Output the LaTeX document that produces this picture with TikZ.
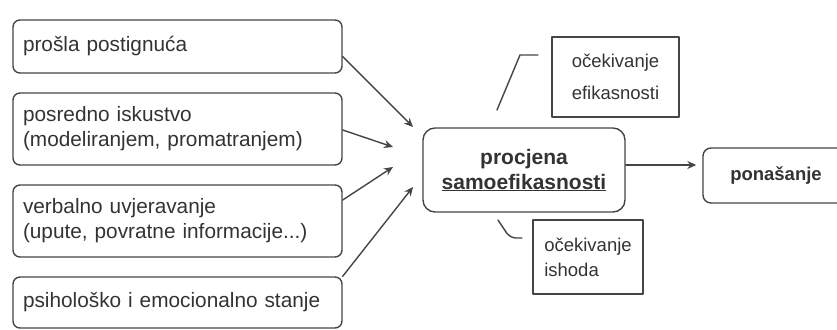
\documentclass[tikz,border=0pt]{standalone}
\usepackage{fontspec}
\setmainfont{Liberation Sans}
\usetikzlibrary{arrows.meta,positioning}
\definecolor{linija}{HTML}{454545}
\definecolor{tekst}{HTML}{333333}
\begin{document}
\begin{tikzpicture}[x=1pt,y=-1pt,line join=round,line cap=round,>={Stealth[length=9pt,width=8pt]}]
                \tikzset{
                  izvor/.style={draw=linija,line width=1.4pt,rounded corners=7pt,minimum width=329pt,
                    text width=309pt,inner xsep=10pt,inner ysep=0pt,align=left,text=tekst,
                    font=\fontsize{20.8}{25}\selectfont},
                  ocekivanje/.style={draw=linija,line width=1.4pt,inner xsep=0pt,inner ysep=0pt,align=left,
                    text=tekst,font=\fontsize{18.5}{#1}\selectfont},
                  strelica/.style={->,draw=linija,line width=1.4pt}
                }
                \useasboundingbox (0,0) rectangle (837,329);
                % izvori samoefikasnosti
                \node[izvor,minimum height=53pt] (izvor1) at (177.5,46.5) {prošla postignuća};
                \node[izvor,minimum height=72pt] (izvor2) at (177.5,129) {posredno iskustvo\\(modeliranjem, promatranjem)};
                \node[izvor,minimum height=72pt] (izvor3) at (177.5,221) {verbalno uvjeravanje\\(upute, povratne informacije...)};
                \node[izvor,minimum height=51pt] (izvor4) at (177.5,302.5) {psihološko i emocionalno stanje};
                % procjena i ponasanje
                \node[draw=linija,line width=1.4pt,rounded corners=12pt,minimum width=202pt,minimum height=84pt,
                      align=center,text=tekst,font=\bfseries\fontsize{21}{25}\selectfont] (centar) at (524,170)
                      {procjena\\\underline{samoefikasnosti}};
                \node[draw=linija,line width=1.4pt,rounded corners=8pt,minimum width=146pt,minimum height=55pt,
                      text=tekst,font=\bfseries\fontsize{18.5}{22}\selectfont] (ponasanje) at (776,175.5) {ponašanje};
                \node[ocekivanje=32,minimum width=127pt,minimum height=80pt] (gore) at (615.5,77) {očekivanje\\efikasnosti};
                \node[ocekivanje=25,minimum width=110pt,minimum height=74pt] (dolje) at (588,257) {očekivanje\\ishoda};
                % krajevi strelica
                \coordinate (k1) at (413,127);
                \coordinate (k2) at (393,147);
                \coordinate (k3) at (393,167);
                \coordinate (k4) at (413,187);
                \draw[strelica] ([yshift=-10pt]izvor1.east) -- (k1);
                \draw[strelica] ([yshift=-1pt]izvor2.east) -- (k2);
                \draw[strelica] ([yshift=21pt]izvor3.east) -- (k3);
                \draw[strelica] (izvor4.north east) -- (k4);
                \draw[strelica,shorten >=6pt] ([yshift=5pt]centar.east) -- ([yshift=10.5pt]ponasanje.west);
                % zagrade
                \draw[linija,line width=1.4pt] (497,110) -- (520,55) -- (538,55);
                \draw[linija,line width=1.4pt,rounded corners=6pt] (498,220) -- (510,238) -- (522,238);
\end{tikzpicture}
\end{document}
